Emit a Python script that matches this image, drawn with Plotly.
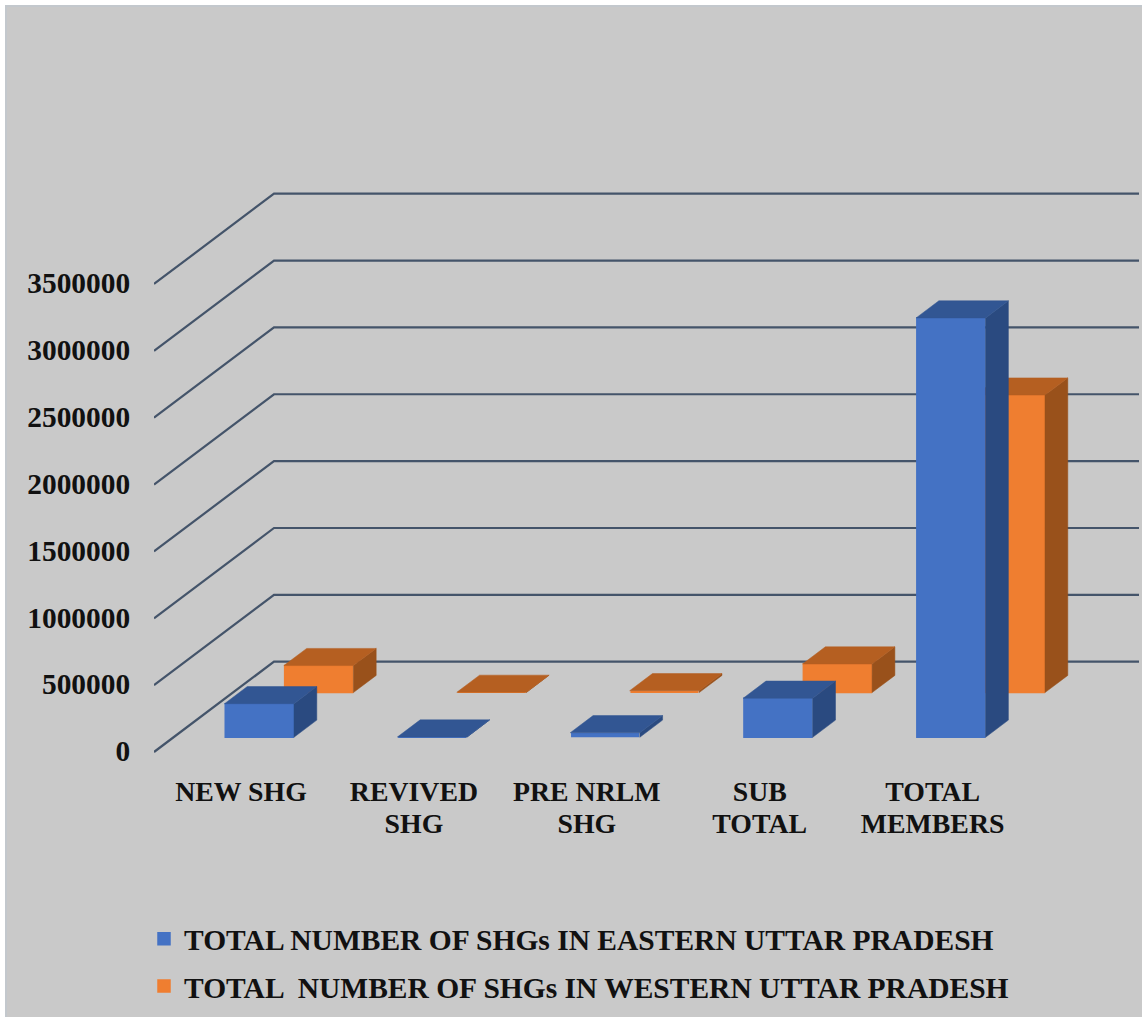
import plotly.graph_objects as go

categories = ["NEW SHG", "REVIVED<br>SHG", "PRE NRLM<br>SHG", "SUB<br>TOTAL", "TOTAL<br>MEMBERS"]
east_values = [251000, 2000, 34000, 292000, 3136000]
west_values = [202000, 2000, 14000, 214000, 2225000]
tick_values = [0, 500000, 1000000, 1500000, 2000000, 2500000, 3000000, 3500000]
east_name = "TOTAL NUMBER OF SHGs IN EASTERN UTTAR PRADESH"
west_name = "TOTAL  NUMBER OF SHGs IN WESTERN UTTAR PRADESH"

W, H = 1142, 1017
L, B = 154, 775            # plot area left / bottom, px
PX_CAT = 172.9             # px per category
PX_VAL = 66.86 / 500000    # px per value unit
X0_PX, Y0_PX = 241, 751    # category 0, value 0 (front plane)

xrange_ = [(L - X0_PX) / PX_CAT, (W - X0_PX) / PX_CAT]
yrange_ = [(Y0_PX - B) / PX_VAL, Y0_PX / PX_VAL]

# oblique projection of floor depth d (0 = front, 1 = back wall)
DX = 120 / PX_CAT
DY = 90.3 / PX_VAL
GRID_DROP = 1 / PX_VAL     # wall lines sit one pixel under their tick label


def proj(x, v, d):
    return x + DX * d, v + DY * d


BAR_W = 69.5 / PX_CAT
EDGE = 1.5
BAR_D = 0.19
EAST_D = 0.152
WEST_D = 0.647
xi = list(range(len(categories)))


def fontspan(t, size=27.8):
    return "<br>".join(f'<span style="font-size:{size}px">{p}</span>' for p in t.split("<br>"))


def faces(i, val, d0):
    x0 = i - BAR_W / 2
    x1 = i + BAR_W / 2
    a = proj(x0, val, d0); b = proj(x1, val, d0)
    c = proj(x1, val, d0 + BAR_D); e = proj(x0, val, d0 + BAR_D)
    f = proj(x1, 0, d0); g = proj(x1, 0, d0 + BAR_D)
    return [a, b, c, e, a], [b, c, g, f, b]


def add_series(fig, name, values, d0, front, top, side, xa, ya, group):
    fig.add_trace(go.Bar(
        x=[i + DX * d0 for i in xi], y=values, base=[DY * d0] * len(xi),
        width=BAR_W - EDGE / PX_CAT, name=name,
        marker=dict(color=front, line=dict(width=[EDGE, 0, 0, EDGE, EDGE], color=front)),
        xaxis=xa, yaxis=ya, legendgroup=group))
    for i, val in zip(xi, values):
        tp, sd = faces(i, val, d0)
        fig.add_trace(go.Scatter(x=[p[0] for p in sd], y=[p[1] for p in sd], mode="lines",
                                 fill="toself", fillcolor=side, line=dict(width=0.5, color=side),
                                 showlegend=False, hoverinfo="skip", xaxis=xa, yaxis=ya, legendgroup=group))
        fig.add_trace(go.Scatter(x=[p[0] for p in tp], y=[p[1] for p in tp], mode="lines",
                                 fill="toself", fillcolor=top, line=dict(width=0.5, color=top),
                                 showlegend=False, hoverinfo="skip", xaxis=xa, yaxis=ya, legendgroup=group))


fig = go.Figure()
add_series(fig, east_name, east_values, EAST_D, "#4472c4", "#325693", "#2a4a80", "x2", "y2", "e")
add_series(fig, west_name, west_values, WEST_D, "#ef7e30", "#b55f21", "#99511b", "x", "y", "w")

shapes = []
right_end = (1139 - X0_PX) / PX_CAT
left_end = (L - X0_PX) / PX_CAT
for v in tick_values:
    bx, by = left_end + DX, v + DY - GRID_DROP
    shapes.append(dict(type="path", path=f"M {left_end} {v - GRID_DROP} L {bx} {by} L {right_end} {by}",
                       xref="x", yref="y", layer="below", line=dict(color="#44546a", width=2.2)))

# white strips and light edge round the grey panel
def px(x):
    return (x - L) / (W - L)
def py(y):
    return (B - y) / B
for x0, y0, x1, y1, col in [(0, 0, 5, H, "#ffffff"), (0, 0, W, 5, "#ffffff"),
                            (5, 5, 7, H, "#c3c8cd"), (5, 5, W, 7, "#c3c8cd")]:
    shapes.append(dict(type="rect", xref="paper", yref="paper", x0=px(x0), x1=px(x1), y0=py(y0), y1=py(y1),
                       fillcolor=col, line=dict(width=0), layer="below"))

black = "#111111"
fig.update_layout(
    width=W, height=H, autosize=False,
    margin=dict(l=L, r=0, t=0, b=H - B, pad=0),
    paper_bgcolor="#c9c9c9", plot_bgcolor="#c9c9c9",
    barmode="overlay", showlegend=True, shapes=shapes,
    font=dict(family="Liberation Serif", color=black),
    xaxis=dict(range=xrange_, tickvals=xi, ticktext=[fontspan(c) for c in categories],
               tickfont=dict(size=24.6, weight="bold", family="Liberation Serif", color=black),
               showgrid=False, zeroline=False, showline=False, ticks="", tickangle=0, fixedrange=True),
    yaxis=dict(range=yrange_, tickvals=tick_values, ticktext=[str(v) for v in tick_values],
               tickfont=dict(size=29.4, weight="bold", family="Liberation Serif", color=black),
               showgrid=False, zeroline=False, showline=False, ticks="outside", ticklen=17,
               tickcolor="rgba(0,0,0,0)", fixedrange=True),
    xaxis2=dict(range=xrange_, overlaying="x", visible=False, fixedrange=True),
    yaxis2=dict(range=yrange_, overlaying="y", visible=False, fixedrange=True),
    legend=dict(x=px(144), y=py(913), xanchor="left", yanchor="top", orientation="v",
                traceorder="grouped", tracegroupgap=6, bgcolor="rgba(0,0,0,0)",
                font=dict(size=29.5, weight="bold", family="Liberation Serif", color=black)),
)

fig.write_html("out.html", config={"displayModeBar": False}, post_script="document.body.style.margin='0';")
